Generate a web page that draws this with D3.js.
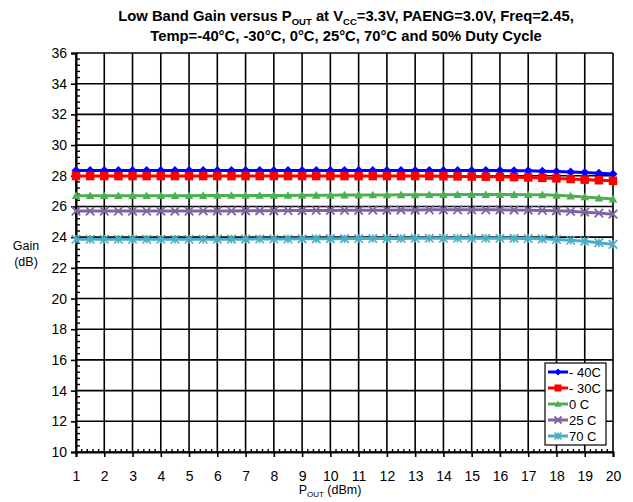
<!DOCTYPE html>
<html><head><meta charset="utf-8">
<script src="https://cdn.jsdelivr.net/npm/d3@7"></script>
<style>body{margin:0;background:#fff;} text{font-family:"Liberation Sans",Arial,sans-serif;}</style>
</head><body><svg id="c" width="633" height="502"></svg>
<script>
const pout = d3.range(39).map(i => 1 + 0.5 * i);
const xTicks = d3.range(1, 21);
const yTicks = d3.range(10, 37, 2);
const seriesNames = ["- 40C", "- 30C", "0 C", "25 C", "70 C"];
const gainM40 = [28.35,28.35,28.35,28.35,28.35,28.35,28.35,28.35,28.35,28.35,28.35,28.35,28.35,28.35,28.35,28.35,28.35,28.35,28.35,28.35,28.35,28.35,28.35,28.35,28.35,28.35,28.35,28.35,28.35,28.35,28.34,28.33,28.32,28.30,28.28,28.25,28.22,28.17,28.11];
const gainM30 = [27.98,27.98,27.98,27.98,27.98,27.98,27.98,27.98,27.98,27.98,27.98,27.98,27.98,27.98,27.98,27.98,27.98,27.98,27.98,27.98,27.98,27.98,27.98,27.98,27.98,27.98,27.97,27.96,27.95,27.94,27.93,27.91,27.89,27.86,27.83,27.79,27.75,27.71,27.67];
const gain0 = [26.70,26.70,26.70,26.70,26.70,26.70,26.70,26.70,26.70,26.71,26.72,26.72,26.72,26.72,26.72,26.72,26.73,26.73,26.73,26.74,26.74,26.75,26.75,26.76,26.76,26.77,26.77,26.78,26.78,26.78,26.78,26.78,26.77,26.76,26.73,26.68,26.62,26.55,26.48];
const gain25 = [25.70,25.70,25.70,25.70,25.70,25.70,25.70,25.70,25.70,25.71,25.71,25.71,25.72,25.72,25.72,25.73,25.73,25.74,25.74,25.75,25.75,25.76,25.76,25.77,25.77,25.78,25.78,25.78,25.78,25.78,25.78,25.77,25.76,25.74,25.72,25.68,25.63,25.57,25.50];
const gain70 = [23.86,23.86,23.86,23.86,23.86,23.86,23.86,23.86,23.86,23.86,23.87,23.87,23.87,23.88,23.88,23.88,23.89,23.89,23.90,23.90,23.91,23.91,23.92,23.92,23.93,23.93,23.93,23.93,23.93,23.93,23.93,23.92,23.91,23.89,23.85,23.80,23.73,23.64,23.53];
const seriesValues = [gainM40, gainM30, gain0, gain25, gain70];
const colors = ["#0000ff", "#ff0000", "#4cb050", "#8064a2", "#4bacc6"];
const symbols = ["diamond", "square", "triangle", "x", "asterisk"];

const svg = d3.select("#c");
const L = 76, R = 613, T = 53, B = 452;
const x = d3.scaleLinear().domain([1, 20]).range([L, R]);
const y = d3.scaleLinear().domain([10, 36]).range([B, T]);

// title
const title = svg.append("text").attr("x", 346).attr("y", 21).attr("text-anchor", "middle")
  .style("font-size", "14.8px").style("font-weight", "bold");
title.append("tspan").text("Low Band Gain versus P");
title.append("tspan").attr("dy", 4).style("font-size", "9.5px").text("OUT");
title.append("tspan").attr("dy", -4).text(" at V");
title.append("tspan").attr("dy", 4).style("font-size", "9.5px").text("CC");
title.append("tspan").attr("dy", -4).text("=3.3V, PAENG=3.0V, Freq=2.45,");
svg.append("text").attr("x", 346).attr("y", 41).attr("text-anchor", "middle")
  .style("font-size", "14.8px").style("font-weight", "bold")
  .text("Temp=-40°C, -30°C, 0°C, 25°C, 70°C and 50% Duty Cycle");

// grid
const grid = svg.append("g");
grid.selectAll(".vg").data(xTicks).join("line")
  .attr("x1", d => x(d)).attr("x2", d => x(d)).attr("y1", T).attr("y2", B)
  .attr("stroke", "#000").attr("stroke-width", 1.6);
grid.selectAll(".hg").data(yTicks).join("line")
  .attr("x1", L).attr("x2", R).attr("y1", d => y(d)).attr("y2", d => y(d))
  .attr("stroke", "#000").attr("stroke-width", 1.6);

// axes
const yAxis = svg.append("g").attr("transform", `translate(${L},0)`)
  .call(d3.axisLeft(y).tickValues(yTicks).tickSize(5).tickPadding(4));
const xAxis = svg.append("g").attr("transform", `translate(0,${B})`)
  .call(d3.axisBottom(x).tickValues(xTicks).tickSize(5).tickPadding(14));
[yAxis, xAxis].forEach(a => {
  a.select(".domain").attr("stroke", "#000").attr("stroke-width", 2);
  a.selectAll(".tick line").attr("stroke", "#000").attr("stroke-width", 1.6);
  a.selectAll(".tick text").style("font-size", "14px").attr("fill", "#000")
    .style("font-family", "'Liberation Sans Narrow','Liberation Sans',Arial,sans-serif");
});
// minor ticks
const yMinor = d3.range(10, 36.01, 0.4).filter(v => Math.abs(v / 2 - Math.round(v / 2)) > 1e-6);
svg.append("g").selectAll("line").data(yMinor).join("line")
  .attr("x1", L).attr("x2", L + 4).attr("y1", d => y(d)).attr("y2", d => y(d))
  .attr("stroke", "#000").attr("stroke-width", 1.4);
const xMinor = d3.range(1, 20.001, 0.2).filter(v => Math.abs(v - Math.round(v)) > 1e-6);
svg.append("g").selectAll("line").data(xMinor).join("line")
  .attr("x1", d => x(d)).attr("x2", d => x(d)).attr("y1", B).attr("y2", B - 3)
  .attr("stroke", "#000").attr("stroke-width", 1.4);

// axis labels
const yl = svg.append("text").attr("text-anchor", "middle").style("font-size", "12.5px");
yl.append("tspan").attr("x", 26).attr("y", 250).text("Gain");
yl.append("tspan").attr("x", 26).attr("y", 266).text("(dB)");
const xl = svg.append("text").attr("x", 330).attr("y", 494).attr("text-anchor", "middle").style("font-size", "12.5px");
xl.append("tspan").text("P");
xl.append("tspan").attr("dy", 3).style("font-size", "8px").text("OUT");
xl.append("tspan").attr("dy", -3).text(" (dBm)");

// markers
function marker(g, type, color, s) {
  const h = s / 2;
  if (type === "diamond") g.append("path").attr("d", `M0,${-h}L${h},0L0,${h}L${-h},0Z`).attr("fill", color);
  else if (type === "square") g.append("rect").attr("x", -h).attr("y", -h).attr("width", s).attr("height", s).attr("fill", color);
  else if (type === "triangle") g.append("path").attr("d", `M0,${-h}L${h},${h * 0.8}L${-h},${h * 0.8}Z`).attr("fill", color);
  else if (type === "x") g.append("path").attr("d", `M${-h},${-h}L${h},${h}M${-h},${h}L${h},${-h}`).attr("stroke", color).attr("stroke-width", 1.8);
  else if (type === "asterisk") g.append("path").attr("d", `M${-h},${-h}L${h},${h}M${-h},${h}L${h},${-h}M0,${-h}L0,${h}`).attr("stroke", color).attr("stroke-width", 1.6);
}
const line = d3.line().x((d, i) => x(pout[i])).y(d => y(d));
seriesValues.forEach((vals, k) => {
  const g = svg.append("g");
  g.append("path").datum(vals).attr("d", line).attr("fill", "none")
    .attr("stroke", colors[k]).attr("stroke-width", 3);
  vals.forEach((v, i) => {
    const m = g.append("g").attr("transform", `translate(${x(pout[i])},${y(v)})`);
    marker(m, symbols[k], colors[k], k === 0 ? 9 : 8.5);
  });
});

// legend
const lg = svg.append("g");
lg.append("rect").attr("x", 545).attr("y", 363).attr("width", 61).attr("height", 82)
  .attr("fill", "#fff").attr("stroke", "#000").attr("stroke-width", 1.2);
seriesNames.forEach((n, k) => {
  const cy = 372 + k * 16;
  lg.append("line").attr("x1", 548).attr("x2", 568).attr("y1", cy).attr("y2", cy)
    .attr("stroke", colors[k]).attr("stroke-width", 3);
  marker(lg.append("g").attr("transform", `translate(558,${cy})`), symbols[k], colors[k], 7);
  lg.append("text").attr("x", 569).attr("y", cy + 5).style("font-size", "13px").text(n);
});
</script></body></html>
